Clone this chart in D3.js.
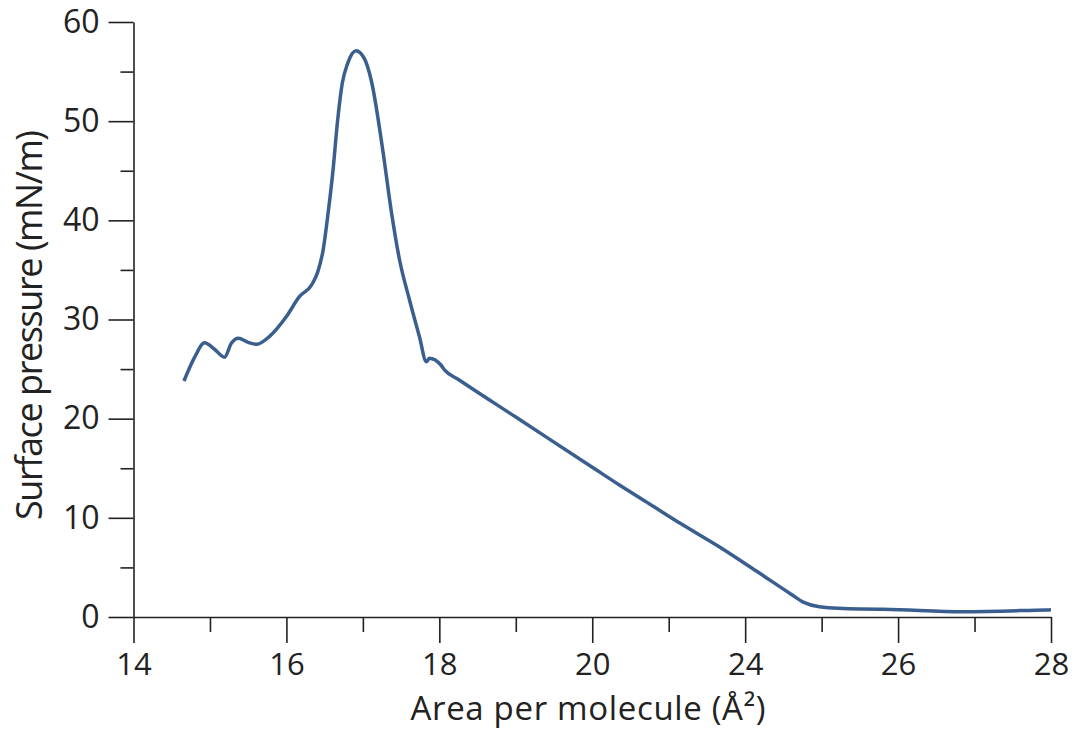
<!DOCTYPE html>
<html>
<head>
<meta charset="utf-8">
<script src="https://cdn.jsdelivr.net/npm/d3@7"></script>
<style>
  html, body { margin: 0; padding: 0; background: #fff; }
  svg text { font-family: "Open Sans", "Segoe UI", "Noto Sans", sans-serif; font-weight: 400; fill: #222; }
</style>
</head>
<body>
<svg id="chart" width="1078" height="730"></svg>
<script>
// Isotherm: surface pressure vs. area per molecule
const areaValues = [14.66, 14.8, 14.93, 15.06, 15.19, 15.28, 15.37, 15.5, 15.61, 15.78, 16.0, 16.17, 16.33, 16.41, 16.48, 16.54, 16.61, 16.67, 16.73, 16.8, 16.91, 17.02, 17.11, 17.26, 17.37, 17.48, 17.61, 17.74, 17.83, 17.87, 18.02, 18.07, 18.26, 19.0, 20.0, 20.71, 21.5, 22.3, 23.32, 24.19, 24.6, 24.76, 24.97, 25.5, 25.81, 26.85, 27.94, 28.0];
const pressureValues = [23.8, 26.2, 27.66, 27.0, 26.2, 27.6, 28.1, 27.7, 27.5, 28.3, 30.3, 32.3, 33.5, 34.8, 37.0, 40.4, 45.1, 50.1, 53.8, 55.8, 57.1, 56.3, 54.1, 47.1, 41.0, 36.0, 31.97, 28.26, 25.74, 26.09, 25.41, 24.9, 23.9, 20.16, 15.1, 13.31, 11.4, 9.45, 7.09, 4.41, 2.3, 1.5, 1.04, 0.8, 0.78, 0.54, 0.71, 0.72];

// Axis breakpoints (the 20 → 24 span shares one interval)
const xMajorTicks = [14, 16, 18, 20, 24, 26, 28];
const xMinorTicks = [15, 17, 19, 22, 25, 27];
const yMajorTicks = [0, 10, 20, 30, 40, 50, 60];
const yMinorTicks = [5, 15, 25, 35, 45, 55];

const svg = d3.select("#chart");
const plotLeft = 133.5, plotRight = 1051, plotTop = 22, plotBottom = 617;

const xRange = xMajorTicks.map((d, i) => plotLeft + i * (plotRight - plotLeft) / (xMajorTicks.length - 1));
const x = d3.scaleLinear().domain(xMajorTicks).range(xRange);
const y = d3.scaleLinear().domain([0, 60]).range([plotBottom, plotTop]);

const axisColor = "#222";

// y axis
const gy = svg.append("g").attr("transform", `translate(${plotLeft},0)`);
gy.call(d3.axisLeft(y).tickValues(yMajorTicks).tickSize(25).tickSizeOuter(0).tickPadding(9));
gy.append("g").call(d3.axisLeft(y).tickValues(yMinorTicks).tickSize(13).tickFormat(""))
  .select(".domain").remove();
gy.selectAll(".tick text").style("font-size", "32px");

// x axis
const gx = svg.append("g").attr("transform", `translate(0,${plotBottom})`);
gx.call(d3.axisBottom(x).tickValues(xMajorTicks).tickFormat(d3.format("d")).tickSize(26).tickSizeOuter(0).tickPadding(10));
gx.append("g").call(d3.axisBottom(x).tickValues(xMinorTicks).tickSize(15).tickFormat(""))
  .select(".domain").remove();
gx.selectAll(".tick text").style("font-size", "31px");

svg.selectAll(".domain, .tick line").attr("stroke", axisColor).attr("stroke-width", 1.6);
svg.selectAll(".tick text").attr("fill", "#222");

// axis titles
svg.append("text")
  .attr("x", 588).attr("y", 719.5)
  .attr("text-anchor", "middle")
  .attr("textLength", 355)
  .attr("lengthAdjust", "spacing")
  .style("font-size", "33px")
  .text("Area per molecule (Å²)");

svg.append("text")
  .attr("transform", "translate(42,325) rotate(-90)")
  .attr("text-anchor", "middle")
  .attr("textLength", 390)
  .attr("lengthAdjust", "spacing")
  .style("font-size", "36px")
  .text("Surface pressure (mN/m)");

// curve
const pts = areaValues.map((a, i) => [a, pressureValues[i]]);
const line = d3.line()
  .x(d => x(d[0]))
  .y(d => y(d[1]))
  .curve(d3.curveMonotoneX);

svg.append("path")
  .datum(pts)
  .attr("d", line)
  .attr("fill", "none")
  .attr("stroke", "#3a5f8e")
  .attr("stroke-width", 3.5)
  .attr("stroke-linejoin", "round")
  .attr("stroke-linecap", "butt");
</script>
</body>
</html>
